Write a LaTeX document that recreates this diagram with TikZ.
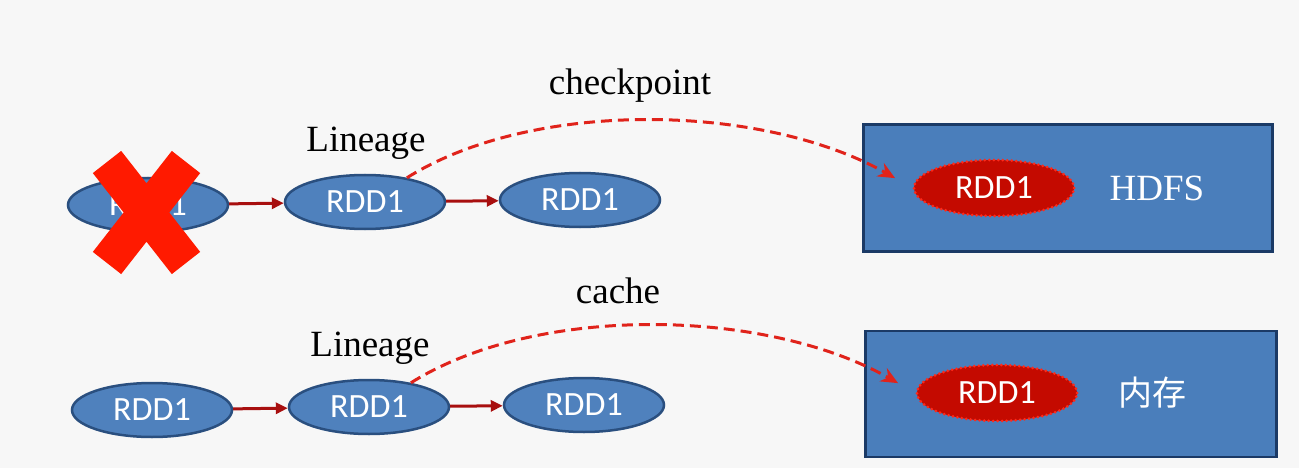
\documentclass[tikz,border=0pt]{standalone}
\usepackage{fontspec}
\setmainfont{Liberation Serif}
\newfontfamily\rddfont{Carlito}
\newfontfamily\cjkfont{Noto Sans CJK SC}
\usetikzlibrary{arrows.meta,shapes.geometric}
\definecolor{rddblue}{HTML}{4F81BD}
\definecolor{rddedge}{HTML}{2A4F7F}
\definecolor{boxblue}{HTML}{4A7EBB}
\definecolor{boxedge}{HTML}{1B3A66}
\definecolor{linkred}{HTML}{A80F0F}
\definecolor{savered}{HTML}{E0231B}
\definecolor{keepred}{HTML}{C40A00}
\definecolor{dotred}{HTML}{FF2A1A}
\definecolor{crossred}{HTML}{FF1A00}
\tikzset{
  rdd/.style={ellipse, draw=rddedge, fill=rddblue, line width=2.5pt,
    minimum width=160pt, minimum height=54pt, inner sep=0pt,
    text=white, font=\rddfont\fontsize{34}{36}\selectfont},
  keptrdd/.style={rdd, draw=dotred, fill=keepred, line width=3pt,
    dash pattern=on 0pt off 4.5pt, line cap=round,
    minimum width=160pt, minimum height=56pt},
  store/.style={rectangle, draw=boxedge, fill=boxblue, line width=2.5pt,
    inner sep=0pt},
  tag/.style={font=\fontsize{37}{40}\selectfont},
  link/.style={draw=linkred, line width=3pt, -{Triangle[length=12pt,width=11pt]}},
  save/.style={draw=savered, line width=3pt, dash pattern=on 11pt off 6pt,
    -{Stealth[length=17pt,width=15pt]}, shorten >=20pt}
}
\begin{document}
\begin{tikzpicture}[x=1pt,y=-1pt]
    \fill[black!3] (0,0) rectangle (1299,468);
    \useasboundingbox (0,0) rectangle (1299,468);

    \node[rdd] (lost) at (148,205) {RDD1};
    \node[rdd] (mid1) at (365,202) {RDD1};
    \node[rdd] (end1) at (580,200) {RDD1};
    \node[tag] (lin1) at (366,143) {Lineage};
    \node[tag] (chk) at (630,86) {checkpoint};
    \node[store, minimum width=409pt, minimum height=127pt] (hdfs) at (1068,188) {};
    \node[keptrdd] (disk) at (994,188) {RDD1};
    \node[tag, text=white] (hdfsname) at (1157,188) {HDFS};
    \draw[link] (lost) -- (mid1);
    \draw[link] (mid1) -- (end1);
    \draw[save] (mid1.30) .. controls +(126,-79) and +(-150,-85) .. (disk.west);
    \draw[crossred, line width=36pt] (107,162) -- (186,263) (186,162) -- (107,263);

    \node[rdd] (src2) at (152,410) {RDD1};
    \node[rdd] (mid2) at (369,407) {RDD1};
    \node[rdd] (end2) at (584,405) {RDD1};
    \node[tag] (lin2) at (370,348) {Lineage};
    \node[tag] (cch) at (618,291) {cache};
    \node[store, minimum width=411pt, minimum height=126pt] (mem) at (1071,394) {};
    \node[keptrdd] (ram) at (997,393) {RDD1};
    \node[text=white, font=\cjkfont\fontsize{34}{36}\selectfont] (memname) at (1152,393) {内存};
    \draw[link] (src2) -- (mid2);
    \draw[link] (mid2) -- (end2);
    \draw[save] (mid2.30) .. controls +(126,-79) and +(-150,-85) .. (ram.west);
\end{tikzpicture}
\end{document}
